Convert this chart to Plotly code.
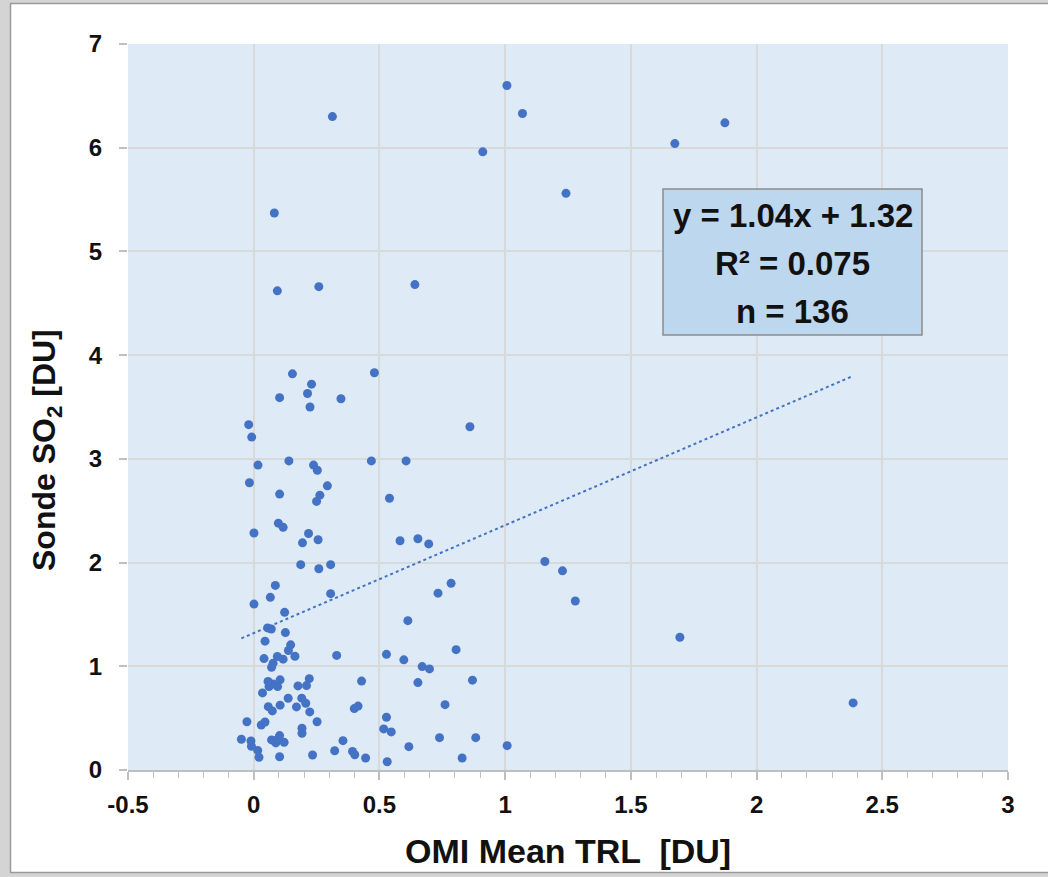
import plotly.graph_objects as go

# ---- data ----
omi_trl = [
    1.007, 1.069, 0.313, 0.911, 1.242, 1.675, 1.874, 0.082, 0.094, 0.259, 0.641,
    0.154, 0.480, 0.230, 0.214, 0.103, 0.347, 0.224, -0.020, -0.008, 0.017, 0.140,
    0.238, 0.253, 0.468, 0.606, 0.860, -0.017, 0.103, 0.293, 0.263, 0.250, 0.540,
    0.098, 0.117, 0.001, 0.218, 0.194, 0.256, 0.582, 0.653, 0.696,
    1.158, 1.228, 1.279, 1.695, 2.384,
    0.187, 0.259, 0.306, 0.086, 0.066, 0.001, 0.306, 0.123, 0.055, 0.070, 0.126,
    0.045, 0.147, 0.138, 0.041, 0.094, 0.117, 0.164, 0.330, 0.077, 0.071, 0.528,
    0.597, 0.613, 0.057, 0.105, 0.077, 0.095, 0.061, 0.035, 0.221, 0.210, 0.176,
    0.429, 0.653, 0.137, 0.191, 0.207, 0.105, 0.058, 0.074, 0.170, 0.223, 0.400,
    0.415, -0.027, 0.030, 0.045, 0.252, 0.528, 0.192, 0.192, 0.517, 0.547, -0.049,
    -0.011, -0.009, 0.071, 0.088, 0.103, 0.095, 0.121, 0.016, 0.021, 0.103, 0.234,
    0.355, 0.322, 0.393, 0.402, 0.445, 0.531, 0.617,
    0.785, 0.733, 0.805, 0.670, 0.699, 0.870, 0.761, 0.739, 0.883, 1.008, 0.829,
]
sonde_so2 = [
    6.60, 6.33, 6.30, 5.96, 5.56, 6.04, 6.24, 5.37, 4.62, 4.66, 4.68,
    3.82, 3.83, 3.72, 3.63, 3.59, 3.58, 3.50, 3.33, 3.21, 2.94, 2.98,
    2.94, 2.89, 2.98, 2.98, 3.31, 2.77, 2.66, 2.74, 2.65, 2.59, 2.62,
    2.38, 2.34, 2.285, 2.28, 2.19, 2.22, 2.21, 2.23, 2.18,
    2.01, 1.92, 1.63, 1.28, 0.647,
    1.98, 1.94, 1.98, 1.78, 1.665, 1.60, 1.70, 1.52, 1.37, 1.36, 1.325,
    1.242, 1.207, 1.152, 1.074, 1.094, 1.069, 1.097, 1.105, 1.03, 0.99, 1.115,
    1.062, 1.44, 0.854, 0.869, 0.830, 0.804, 0.804, 0.743, 0.881, 0.814, 0.811,
    0.857, 0.843, 0.692, 0.693, 0.644, 0.625, 0.611, 0.570, 0.608, 0.560, 0.592,
    0.616, 0.465, 0.434, 0.463, 0.465, 0.509, 0.403, 0.354, 0.396, 0.367, 0.297,
    0.280, 0.229, 0.290, 0.261, 0.332, 0.294, 0.267, 0.189, 0.123, 0.128, 0.145,
    0.283, 0.186, 0.179, 0.147, 0.116, 0.080, 0.225,
    1.80, 1.705, 1.16, 0.997, 0.975, 0.866, 0.63, 0.312, 0.312, 0.235, 0.116,
]
slope = 1.04
intercept = 1.32
r_squared = 0.075
n_count = 136
x_ticks = [-0.5, 0, 0.5, 1, 1.5, 2, 2.5, 3]
x_tick_text = ["-0.5", "0", "0.5", "1", "1.5", "2", "2.5", "3"]
y_ticks = [0, 1, 2, 3, 4, 5, 6, 7]

# ---- layout constants ----
W, H = 1048, 877
ML, MR, MT, MB = 128, 40, 44, 107
PW, PH = W - ML - MR, H - MT - MB
BLUE = "#4472C4"
FONT = "Liberation Sans, Arial, sans-serif"


def px_x(p):
    return (p - ML) / PW


def px_y(p):
    return (H - MB - p) / PH


fig = go.Figure()

fig.add_trace(go.Scatter(
    x=omi_trl, y=sonde_so2, mode="markers",
    marker=dict(color=BLUE, size=9, line=dict(width=0)),
    showlegend=False, hoverinfo="x+y",
))

x_lo, x_hi = min(omi_trl), max(omi_trl)
fig.add_trace(go.Scatter(
    x=[x_lo, x_hi], y=[slope * x_lo + intercept, slope * x_hi + intercept],
    mode="lines", line=dict(color=BLUE, width=2, dash="dot"),
    showlegend=False, hoverinfo="skip",
))

shapes = []
GREY = "#d4d4d4"
EDGE = "#9a9a9a"
shapes.append(dict(type="rect", xref="paper", yref="paper", layer="above",
                   x0=px_x(0), x1=px_x(10), y0=px_y(H), y1=px_y(0),
                   fillcolor=GREY, line=dict(width=0)))
shapes.append(dict(type="rect", xref="paper", yref="paper", layer="above",
                   x0=px_x(0), x1=px_x(W), y0=px_y(3), y1=px_y(0),
                   fillcolor=GREY, line=dict(width=0)))
shapes.append(dict(type="rect", xref="paper", yref="paper", layer="above",
                   x0=px_x(0), x1=px_x(W), y0=px_y(H), y1=px_y(873),
                   fillcolor=GREY, line=dict(width=0)))
shapes.append(dict(type="line", xref="paper", yref="paper", layer="above",
                   x0=px_x(10.5), x1=px_x(10.5), y0=px_y(873), y1=px_y(3),
                   line=dict(color=EDGE, width=1.5)))
shapes.append(dict(type="line", xref="paper", yref="paper", layer="above",
                   x0=px_x(10), x1=px_x(W), y0=px_y(3.5), y1=px_y(3.5),
                   line=dict(color=EDGE, width=1.5)))
shapes.append(dict(type="line", xref="paper", yref="paper", layer="above",
                   x0=px_x(10), x1=px_x(W), y0=px_y(872.5), y1=px_y(872.5),
                   line=dict(color=EDGE, width=1.5)))
shapes.append(dict(type="rect", xref="paper", yref="paper", layer="above",
                   x0=px_x(663), x1=px_x(922), y0=px_y(335), y1=px_y(189),
                   fillcolor="#BDD7EE", line=dict(color="#8c8c8c", width=1.5)))

annotations = []
box_cx = px_x((663 + 922) / 2)
stat_lines = [
    f"y = {slope:.2f}x + {intercept:.2f}",
    f"R² = {r_squared:.3f}",
    f"n = {n_count}",
]
for txt, cy in zip(stat_lines, [216, 263, 311]):
    annotations.append(dict(
        xref="paper", yref="paper", x=box_cx, y=px_y(cy),
        text=txt, showarrow=False, xanchor="center", yanchor="middle",
        font=dict(family=FONT, size=33, color="#111111", weight="bold"),
    ))
annotations.append(dict(
    xref="paper", yref="paper", x=px_x(568), y=px_y(851),
    text="OMI Mean TRL  [DU]", showarrow=False,
    xanchor="center", yanchor="middle",
    font=dict(family=FONT, size=34, color="#111111", weight="bold"),
))
annotations.append(dict(
    xref="paper", yref="paper", x=px_x(46), y=px_y(450),
    text="Sonde SO<sub>2</sub> [DU]", showarrow=False, textangle=-90,
    xanchor="center", yanchor="middle",
    font=dict(family=FONT, size=32, color="#111111", weight="bold"),
))

fig.update_layout(
    width=W, height=H,
    margin=dict(l=ML, r=MR, t=MT, b=MB, pad=0),
    paper_bgcolor="white",
    plot_bgcolor="#DEEBF7",
    shapes=shapes,
    annotations=annotations,
    font=dict(family=FONT, color="#111111"),
)
fig.update_xaxes(
    range=[-0.5, 3], tickmode="array", tickvals=x_ticks, ticktext=x_tick_text,
    showgrid=True, gridcolor="#d9d9d9", gridwidth=1.5, zeroline=False,
    showline=True, linecolor="#bfbfbf", linewidth=1.5,
    ticks="outside", ticklen=8, tickcolor="#bfbfbf", tickwidth=1.5,
    minor=dict(dtick=0.1, tick0=0, ticks="outside", ticklen=6, tickcolor="#bfbfbf",
               tickwidth=1, showgrid=False),
    tickfont=dict(family=FONT, size=24, color="#111111", weight="bold"),
    ticklabelstandoff=4,
)
fig.update_yaxes(
    range=[0, 7], tickmode="array", tickvals=y_ticks,
    showgrid=True, gridcolor="#d9d9d9", gridwidth=1.5, zeroline=False,
    showline=False,
    ticks="outside", ticklen=8, tickcolor="#bfbfbf", tickwidth=1.5,
    tickfont=dict(family=FONT, size=24, color="#111111", weight="bold"),
    ticklabelstandoff=12,
)

fig.write_html("out.html")
